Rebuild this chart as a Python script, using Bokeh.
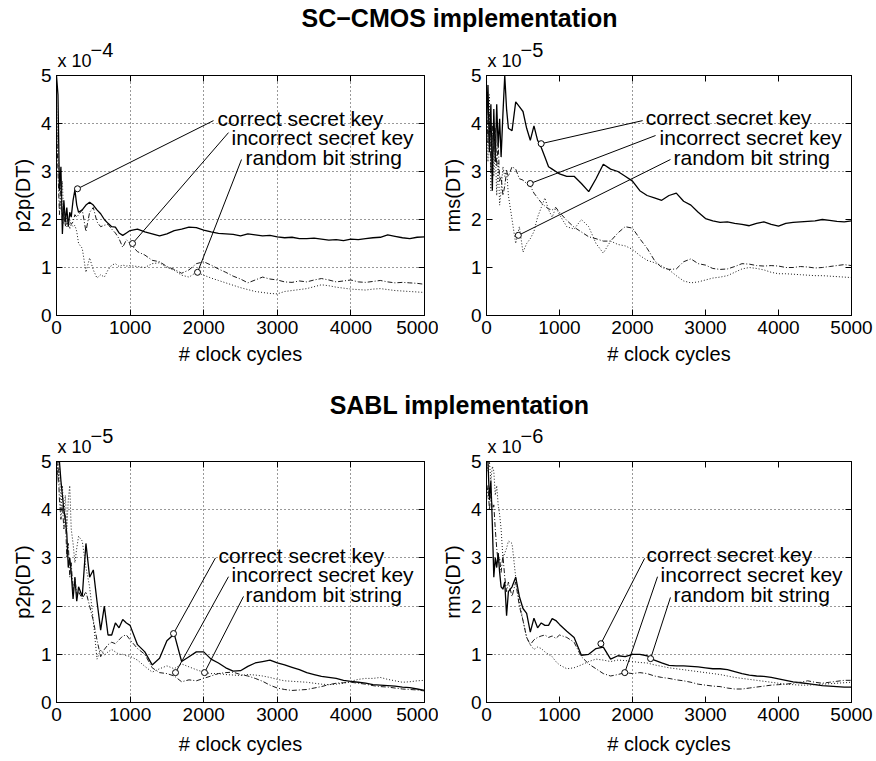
from bokeh.plotting import figure
from bokeh.layouts import column, row
from bokeh.models import FixedTicker, LinearAxis, Title, Range1d, CustomJSTickFormatter
from bokeh.core.properties import value
from bokeh.embed import file_html
from bokeh.resources import INLINE

FONT = "Liberation Sans"

# ---------------- data ----------------
X = [0, 20, 40, 60, 80, 100, 120, 140, 160, 180, 200, 225, 250, 275, 300,
     350, 400, 450, 500, 550, 600, 650, 700, 750, 800, 850, 900, 950, 1000,
     1100, 1200, 1300, 1400, 1500, 1600, 1700, 1800, 1900, 2000,
     2100, 2200, 2300, 2400, 2500, 2600, 2700, 2800, 2900, 3000,
     3100, 3200, 3300, 3400, 3500, 3600, 3700, 3800, 3900, 4000,
     4100, 4200, 4300, 4400, 4500, 4600, 4700, 4800, 4900, 5000]

XTICKS = [0, 1000, 2000, 3000, 4000, 5000]
YTICKS = [0, 1, 2, 3, 4, 5]
LABELS = ["correct secret key", "incorrect secret key", "random bit string"]

# SC-CMOS, p2p(DT) x 1e-4
A_correct = [5.0, 4.6, 2.6, 3.1, 1.7, 2.4, 1.95, 2.25, 1.85, 2.15, 2.05, 2.4, 2.62, 2.3, 2.15,
             2.2, 2.3, 2.36, 2.3, 2.2, 2.12, 2.0, 1.92, 1.85, 1.84, 1.72, 1.67, 1.72, 1.77,
             1.8, 1.74, 1.7, 1.66, 1.7, 1.77, 1.8, 1.84, 1.83, 1.78,
             1.74, 1.71, 1.7, 1.69, 1.66, 1.7, 1.68, 1.66, 1.67, 1.64,
             1.62, 1.63, 1.6, 1.6, 1.61, 1.59, 1.57, 1.58, 1.56, 1.59,
             1.58, 1.6, 1.62, 1.63, 1.68, 1.65, 1.62, 1.6, 1.63, 1.64]
A_incorrect = [4.0, 3.0, 2.1, 2.8, 1.9, 2.2, 1.85, 2.05, 1.95, 2.0, 1.9, 1.95, 2.1, 2.05, 2.1,
               2.2, 1.75, 2.15, 2.25, 1.95, 1.85, 1.88, 1.9, 1.8, 1.72, 1.6, 1.42, 1.58, 1.5,
               1.33, 1.26, 1.15, 1.12, 1.02, 0.96, 0.88, 0.95, 1.08, 1.12,
               1.05, 0.97, 0.9, 0.82, 0.76, 0.68, 0.74, 0.8, 0.76, 0.74,
               0.7, 0.69, 0.72, 0.7, 0.74, 0.77, 0.74, 0.7, 0.72, 0.74,
               0.7, 0.69, 0.71, 0.73, 0.7, 0.68, 0.69, 0.68, 0.67, 0.65]
A_random = [4.5, 3.4, 2.7, 2.2, 2.8, 1.9, 2.1, 1.85, 2.0, 1.8, 1.9, 1.85, 1.88, 1.75, 1.5,
            1.4, 0.9, 1.2, 0.95, 0.78, 0.85, 0.8, 0.95, 1.05, 1.08, 1.02, 1.05, 1.03, 1.04,
            1.02, 1.0, 1.08, 1.1, 1.0, 0.94, 0.84, 0.8, 0.9, 0.84,
            0.78, 0.73, 0.68, 0.63, 0.58, 0.54, 0.5, 0.48, 0.46, 0.45,
            0.5, 0.52, 0.54, 0.56, 0.6, 0.64, 0.62, 0.59, 0.57, 0.55,
            0.54, 0.53, 0.55, 0.56, 0.54, 0.52, 0.51, 0.5, 0.49, 0.48]

# SC-CMOS, rms(DT) x 1e-5
B_correct = [4.0, 4.8, 3.4, 4.4, 2.6, 4.3, 3.2, 4.4, 3.5, 4.1, 3.3, 4.2, 5.0, 4.3, 3.9,
             3.85, 4.45, 4.35, 4.25, 3.9, 3.65, 3.95, 3.65, 3.5, 3.3, 3.1, 3.05, 3.0, 2.95,
             2.9, 2.9, 2.75, 2.58, 2.85, 3.15, 3.05, 3.0, 2.9, 2.8,
             2.6, 2.5, 2.45, 2.4, 2.5, 2.55, 2.38, 2.3, 2.15, 2.02,
             1.97, 1.94, 1.95, 1.92, 1.9, 1.87, 1.92, 1.95, 1.9, 1.86,
             1.92, 1.94, 1.95, 1.96, 1.97, 2.0, 1.98, 1.96, 1.95, 1.97]
B_incorrect = [4.5, 3.6, 4.2, 3.0, 4.0, 3.4, 3.9, 3.1, 3.6, 2.8, 2.9, 2.5, 2.7, 3.0, 2.9,
               3.1, 3.05, 2.85, 2.82, 2.75, 2.7, 2.55, 2.45, 2.35, 2.28, 2.22, 2.2, 2.25, 2.15,
               1.98, 1.84, 1.74, 1.64, 1.6, 1.55, 1.55, 1.72, 1.85, 1.82,
               1.6, 1.4, 1.15, 1.0, 0.96, 0.97, 1.12, 1.18, 1.08, 1.05,
               0.98, 0.96, 0.97, 1.02, 1.08, 1.07, 1.04, 1.03, 1.04, 1.03,
               1.0, 1.0, 1.02, 1.01, 0.99, 1.0, 1.02, 1.04, 1.06, 1.04]
B_random = [5.0, 3.2, 4.6, 2.6, 3.8, 2.9, 3.5, 2.5, 3.2, 2.3, 2.6, 3.1, 2.9, 3.05, 2.5,
            2.0, 1.5, 1.85, 1.32, 1.5, 1.6, 1.75, 2.05, 2.25, 2.45, 2.2, 2.05, 2.25, 2.1,
            1.85, 1.8, 2.0, 1.85, 1.5, 1.3, 1.55, 1.48, 1.45, 1.38,
            1.25, 1.15, 1.1, 1.03, 0.95, 0.83, 0.72, 0.68, 0.7, 0.74,
            0.78, 0.8, 0.83, 0.9, 0.97, 1.0, 0.98, 0.95, 0.9, 0.87,
            0.87, 0.86, 0.85, 0.84, 0.83, 0.83, 0.82, 0.81, 0.8, 0.79]

# SABL, p2p(DT) x 1e-5
C_correct = [5.0, 5.0, 5.0, 4.6, 4.3, 4.0, 3.8, 3.5, 2.8, 3.0, 2.7, 2.15, 2.6, 2.1, 2.4,
             2.2, 3.3, 2.6, 2.75, 2.1, 1.5, 2.0, 1.4, 1.4, 1.65, 1.55, 1.72, 1.65, 1.6,
             1.2, 1.05, 0.78, 0.92, 1.28, 1.42, 0.85, 0.95, 1.05, 1.05,
             0.9, 0.82, 0.72, 0.65, 0.66, 0.75, 0.82, 0.85, 0.88, 0.82,
             0.78, 0.73, 0.68, 0.62, 0.58, 0.54, 0.52, 0.5, 0.46, 0.44,
             0.42, 0.4, 0.37, 0.36, 0.35, 0.34, 0.32, 0.31, 0.28, 0.25]
C_incorrect = [4.5, 5.0, 4.2, 3.8, 4.1, 3.6, 3.9, 3.0, 3.3, 2.6, 2.9, 2.3, 2.6, 2.2, 2.3,
               2.15, 2.3, 2.0, 1.7, 1.3, 0.95, 1.1, 1.2, 1.25, 1.22, 1.3, 1.38, 1.4, 1.3,
               1.12, 1.0, 0.72, 0.62, 0.6, 0.55, 0.43, 0.47, 0.45, 0.5,
               0.55, 0.6, 0.62, 0.63, 0.58, 0.55, 0.5, 0.44, 0.36, 0.3,
               0.27, 0.25, 0.26, 0.27, 0.3, 0.33, 0.37, 0.4, 0.41, 0.42,
               0.4, 0.38, 0.35, 0.33, 0.32, 0.3, 0.28, 0.27, 0.26, 0.24]
C_random = [5.0, 4.6, 4.9, 4.0, 4.5, 3.9, 4.3, 3.6, 4.2, 4.5, 3.6, 3.3, 2.9, 3.2, 3.45,
            3.35, 2.8, 2.4, 1.7, 0.9, 1.1, 0.98, 1.05, 1.1, 1.05, 1.0, 1.0, 0.97, 0.96,
            0.88, 0.75, 0.63, 0.7, 0.76, 0.7, 0.8, 0.74, 0.68, 0.63,
            0.6, 0.6, 0.58, 0.57, 0.56, 0.58, 0.57, 0.55, 0.52, 0.48,
            0.45, 0.44, 0.43, 0.42, 0.4, 0.38, 0.37, 0.38, 0.4, 0.44,
            0.48, 0.5, 0.5, 0.52, 0.48, 0.45, 0.42, 0.43, 0.45, 0.46]

# SABL, rms(DT) x 1e-6
D_correct = [5.0, 5.0, 4.2, 4.6, 3.7, 2.6, 3.0, 2.8, 3.1, 2.7, 2.4, 2.35, 2.5, 1.8, 2.3,
             2.4, 2.6, 2.2, 1.95, 1.85, 1.46, 1.75, 1.55, 1.65, 1.6, 1.6, 1.74, 1.7, 1.62,
             1.48, 1.35, 0.98, 1.0, 1.12, 1.15, 0.9, 0.97, 0.95, 1.0,
             1.0, 0.97, 0.88, 0.82, 0.77, 0.76, 0.76, 0.75, 0.74, 0.72,
             0.7, 0.7, 0.68, 0.64, 0.6, 0.57, 0.55, 0.54, 0.52, 0.49,
             0.46, 0.43, 0.41, 0.39, 0.37, 0.35, 0.34, 0.33, 0.32, 0.32]
D_incorrect = [4.2, 4.5, 4.0, 4.3, 4.0, 4.1, 3.6, 3.2, 2.9, 3.0, 2.7, 3.05, 2.6, 2.3, 2.5,
               2.2, 2.5, 2.0, 1.7, 1.35, 1.2, 1.3, 1.35, 1.38, 1.4, 1.35, 1.38, 1.33, 1.4,
               1.35, 1.25, 0.95, 0.8, 0.7, 0.6, 0.55, 0.58, 0.62, 0.6,
               0.62, 0.6, 0.55, 0.52, 0.5, 0.47, 0.45, 0.42, 0.38, 0.36,
               0.34, 0.33, 0.3, 0.28, 0.28, 0.3, 0.32, 0.34, 0.36, 0.37,
               0.38, 0.4, 0.42, 0.45, 0.42, 0.4, 0.42, 0.44, 0.46, 0.46]
D_random = [5.0, 4.8, 5.0, 4.6, 4.9, 4.8, 4.3, 4.5, 4.1, 3.9, 3.6, 3.0, 3.1, 3.2, 3.35,
            3.3, 2.6, 2.1, 1.7, 1.35, 1.2, 1.1, 1.15, 1.12, 1.05, 1.0, 0.95, 0.85, 0.78,
            0.7, 0.72, 0.78, 0.85, 0.9, 0.88, 0.85, 0.88, 0.87, 0.85,
            0.83, 0.82, 0.78, 0.75, 0.72, 0.7, 0.68, 0.66, 0.64, 0.62,
            0.6, 0.58, 0.55, 0.52, 0.5, 0.48, 0.46, 0.44, 0.42, 0.4,
            0.38, 0.37, 0.36, 0.36, 0.37, 0.38, 0.39, 0.4, 0.41, 0.42]

# ---------------- styles ----------------
STYLES = [dict(line_color="black", line_width=1.3),
          dict(line_color="#1a1a1a", line_width=1.0, line_dash="5 2 1 2"),
          dict(line_color="#1a1a1a", line_width=1.0, line_dash="1 2")]


def panel(series, ylabel, exponent, annot, gx, gy, width, left, right, height, top, bottom,
          xlabel_standoff):
    p = figure(width=width, height=height, x_range=Range1d(0, 5000), y_range=Range1d(0, 5),
               output_backend="svg", toolbar_location=None,
               min_border_left=left, min_border_right=right,
               min_border_top=top, min_border_bottom=bottom,
               outline_line_color="black", outline_line_width=1,
               background_fill_color="white", border_fill_color="white")
    for ys, st in zip(series, STYLES):
        p.line(X, ys, **st)

    # annotations
    p.segment(x0=annot["lx"], y0=annot["ly"], x1=annot["px"], y1=annot["py"],
              line_color="black", line_width=1)
    p.scatter(x=annot["px"], y=annot["py"], marker="circle", size=6,
              fill_color="white", line_color="black", line_width=1)
    p.text(x=annot["tx"], y=annot["ty"], text=LABELS, text_font=value(FONT),
           text_font_size="21px", text_align="left", text_baseline="middle", text_color="black")

    for ax in (p.xaxis[0], p.yaxis[0]):
        ax.major_tick_in = 6
        ax.major_tick_out = 0
        ax.minor_tick_line_color = None
        ax.axis_line_color = "black"
        ax.major_tick_line_color = "black"
        ax.major_label_text_font = FONT
        ax.major_label_text_font_size = "19px"
        ax.major_label_text_color = "black"
        ax.axis_label_text_font = FONT
        ax.axis_label_text_font_size = "20px"
        ax.axis_label_text_font_style = "normal"
        ax.axis_label_text_color = "black"
    p.xaxis.ticker = FixedTicker(ticks=XTICKS)
    p.yaxis.ticker = FixedTicker(ticks=YTICKS)
    p.xaxis.axis_label = "# clock cycles"
    p.yaxis.axis_label = ylabel
    p.xaxis.major_label_standoff = 5
    p.xaxis.axis_label_standoff = xlabel_standoff
    p.yaxis.major_label_standoff = 5
    p.yaxis.axis_label_standoff = 4

    blank = CustomJSTickFormatter(code="return ''")
    for loc, tk in (("right", YTICKS), ("above", XTICKS)):
        a = LinearAxis(ticker=FixedTicker(ticks=tk), formatter=blank,
                       major_tick_in=6, major_tick_out=0, minor_tick_line_color=None,
                       axis_line_color="black", major_label_standoff=0)
        p.add_layout(a, loc)

    p.xgrid.ticker = FixedTicker(ticks=gx)
    p.ygrid.ticker = FixedTicker(ticks=gy)
    p.grid.grid_line_color = "black"
    p.grid.grid_line_dash = "1 3"
    p.grid.grid_line_width = 1
    p.grid.grid_line_alpha = 0.8

    # scale factor "x 10^-n" above the top-left corner
    p.add_layout(Title(text="x 10", align="left", offset=1, standoff=9, vertical_align="bottom",
                       text_font=FONT, text_font_size="18px", text_font_style="normal",
                       text_color="black"), "above")
    p.add_layout(Title(text="\u2212" + exponent, align="left", offset=34, standoff=-25,
                       vertical_align="bottom", text_font=FONT, text_font_size="20px",
                       text_font_style="normal", text_color="black"), "above")
    return p


def title_fig(text, h, center_from_top):
    t = figure(width=876, height=h, x_range=Range1d(0, 876), y_range=Range1d(0, h),
               output_backend="svg", toolbar_location=None, min_border=0,
               x_axis_location=None, y_axis_location=None, outline_line_color=None,
               background_fill_color="white", border_fill_color="white")
    t.grid.visible = False
    t.text(x=[459], y=[h - center_from_top], text=[text], text_font=value(FONT),
           text_font_size="25px", text_font_style="bold", text_align="center",
           text_baseline="middle", text_color="black")
    return t


ANN_A = dict(tx=[2188, 2378, 2568], ty=[4.1, 3.71, 3.3],
             lx=[2133, 2337, 2514], ly=[4.06, 3.81, 3.25],
             px=[285, 1033, 1916], py=[2.64, 1.5, 0.9])
ANN_B = dict(tx=[2180, 2371, 2561], ty=[4.12, 3.71, 3.29],
             lx=[2139, 2316, 2520], ly=[4.06, 3.75, 3.25],
             px=[749, 599, 436], py=[3.58, 2.75, 1.67])
ANN_C = dict(tx=[2201, 2378, 2568], ty=[3.05, 2.66, 2.24],
             lx=[2160, 2337, 2541], ly=[3.0, 2.61, 2.2],
             px=[1590, 1617, 2011], py=[1.43, 0.62, 0.62])
ANN_D = dict(tx=[2193, 2384, 2561], ty=[3.07, 2.66, 2.24],
             lx=[2166, 2343, 2520], ly=[2.99, 2.61, 2.18],
             px=[1567, 1894, 2248], py=[1.22, 0.62, 0.91])

GX_ALL = [1000, 2000, 3000, 4000]
GY_ALL = [1, 2, 3, 4]

p1 = panel([A_correct, A_incorrect, A_random], "p2p(DT)", "4", ANN_A, GX_ALL, GY_ALL,
           438, 56, 14, 335, 40, 55, 6)
p2 = panel([B_correct, B_incorrect, B_random], "rms(DT)", "5", ANN_B, [2000], [3, 4],
           438, 46, 25, 335, 40, 55, 6)
p3 = panel([C_correct, C_incorrect, C_random], "p2p(DT)", "5", ANN_C, GX_ALL, GY_ALL,
           438, 56, 14, 341, 41, 59, 9)
p4 = panel([D_correct, D_incorrect, D_random], "rms(DT)", "6", ANN_D, [2000], GY_ALL,
           438, 46, 25, 341, 41, 59, 9)

t1 = title_fig("SC\u2212CMOS implementation", 35, 17)
t2 = title_fig("SABL implementation", 50, 34)

layout = column(t1, row(p1, p2), t2, row(p3, p4))

with open("out.html", "w") as f:
    f.write(file_html(layout, INLINE))
